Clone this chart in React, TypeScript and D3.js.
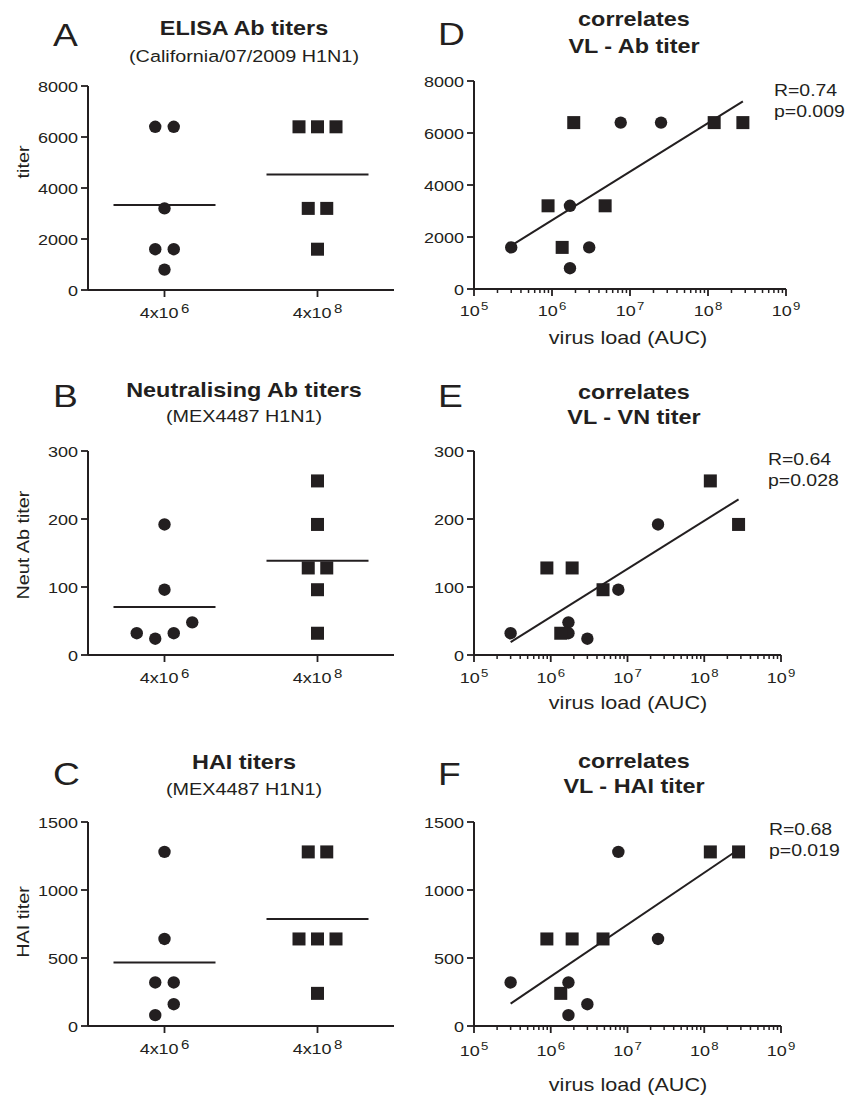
import React from 'react';
import * as d3 from 'd3';

// ---------- data ----------
const groups = ['low', 'high'];
const groupExp = ['6', '8'];

// left panels: titers per dose group (display order)
const elisaLowGroup = [6400, 6400, 3200, 1600, 1600, 800];
const elisaHighGroup = [6400, 6400, 6400, 3200, 3200, 1600];
const vnLowGroup = [192, 96, 32, 24, 32, 48];
const vnHighGroup = [256, 192, 128, 128, 96, 32];
const haiLowGroup = [1280, 640, 320, 320, 80, 160];
const haiHighGroup = [1280, 1280, 640, 640, 640, 240];

// right panels: virus load (AUC) paired with titers, per animal
const vlLow = [3e5, 1.7e6, 3e6, 1.7e6, 7.6e6, 2.5e7];
const elisaLow = [1600, 800, 1600, 3200, 6400, 6400];
const vnLow = [32, 48, 24, 32, 96, 192];
const haiLow = [320, 80, 160, 320, 1280, 640];
const vlHigh = [8.9e5, 1.35e6, 1.9e6, 4.8e6, 1.2e8, 2.8e8];
const elisaHigh = [3200, 1600, 6400, 3200, 6400, 6400];
const vnHigh = [128, 32, 128, 96, 256, 192];
const haiHigh = [640, 240, 640, 640, 1280, 1280];

const elisaTicks = [0, 2000, 4000, 6000, 8000];
const vnTicks = [0, 100, 200, 300];
const haiTicks = [0, 500, 1000, 1500];
const decades = [5, 6, 7, 8, 9];
const stats = [
  ['R=0.74', 'p=0.009'],
  ['R=0.64', 'p=0.028'],
  ['R=0.68', 'p=0.019'],
];

// ---------- style ----------
const INK = '#231f20';
const FONT = '"Liberation Sans", Arial, Helvetica, sans-serif';
const SX = 1.2;

function T({ x, y, size, weight = 'normal', anchor = 'start', rotate = 0, sx = SX, children }: any) {
  return (
    <text
      transform={`translate(${x},${y})${rotate ? ` rotate(${rotate})` : ''} scale(${sx},1)`}
      fontSize={size}
      fontWeight={weight}
      textAnchor={anchor}
      fill={INK}
      fontFamily={FONT}
    >
      {children}
    </text>
  );
}

function Marker({ shape, cx, cy }: any) {
  if (shape === 'circle') return <circle cx={cx} cy={cy} r={6.2} fill={INK} />;
  const s = 13;
  return <rect x={cx - s / 2} y={cy - s / 2} width={s} height={s} fill={INK} />;
}

function jitter(vals: number[], y: (v: number) => number, size = 12.5, step = 18.5) {
  const order = vals.map((_, i) => i).sort((a, b) => y(vals[b]) - y(vals[a]));
  const clusters: number[][] = [];
  order.forEach((i, k) => {
    if (k > 0 && Math.abs(y(vals[i]) - y(vals[order[k - 1]])) < size) clusters[clusters.length - 1].push(i);
    else clusters.push([i]);
  });
  const off = new Array(vals.length).fill(0);
  clusters.forEach((c) => {
    c.sort((a, b) => a - b);
    c.forEach((i, k) => (off[i] = (k - (c.length - 1) / 2) * step));
  });
  return off;
}

function GroupPanel({ p }: any) {
  const left = 88;
  const x = d3.scalePoint<string>().domain(groups).range([left, 394]).padding(0.5);
  const y = d3.scaleLinear().domain([0, p.yMax]).range([p.bottom, p.top]);
  const series = [
    { vals: p.low, shape: 'circle', g: groups[0] },
    { vals: p.high, shape: 'square', g: groups[1] },
  ];
  return (
    <g>
      <T x={53} y={p.letterY} size={31}>{p.letter}</T>
      <T x={244} y={p.titleY} size={19.5} weight="bold" anchor="middle">{p.title}</T>
      <T x={244} y={p.subY} size={16.5} anchor="middle">{p.subtitle}</T>
      <T x={29} y={p.ylabelY} size={16.5} anchor="middle" rotate={-90}>{p.ylabel}</T>
      <line x1={left} x2={left} y1={p.bottom} y2={p.top} stroke={INK} strokeWidth={2} />
      <line x1={left} x2={394} y1={p.bottom} y2={p.bottom} stroke={INK} strokeWidth={2} />
      {p.ticks.map((t: number) => (
        <g key={t}>
          <line x1={left - 7} x2={left} y1={y(t)} y2={y(t)} stroke={INK} strokeWidth={1.8} />
          <T x={left - 10} y={y(t) + 5.5} size={15} anchor="end">{t}</T>
        </g>
      ))}
      {groups.map((g, i) => (
        <g key={g}>
          <line x1={x(g)} x2={x(g)} y1={p.bottom} y2={p.bottom + 7} stroke={INK} strokeWidth={1.8} />
          <T x={(x(g) as number)} y={p.bottom + 28} size={15} anchor="middle">
            <tspan>4x10</tspan>
            <tspan dx={2} dy={-5} fontSize={12.5}>{groupExp[i]}</tspan>
          </T>
        </g>
      ))}
      {series.map((s) => {
        const off = jitter(s.vals, y);
        const cx = x(s.g) as number;
        const m = d3.mean(s.vals) as number;
        return (
          <g key={s.g}>
            {s.vals.map((v: number, i: number) => (
              <Marker key={i} shape={s.shape} cx={cx + off[i]} cy={y(v)} />
            ))}
            <line x1={cx - 51} x2={cx + 51} y1={y(m)} y2={y(m)} stroke={INK} strokeWidth={2} />
          </g>
        );
      })}
    </g>
  );
}

function CorrPanel({ p }: any) {
  const left = 474;
  const x = d3.scaleLog().domain([1e5, 1e9]).range([left, p.right]);
  const y = d3.scaleLinear().domain([0, p.yMax]).range([p.bottom, p.top]);
  const allX = [...p.vlLow, ...p.vlHigh];
  const allY = [...p.low, ...p.high];
  const lx = allX.map((v: number) => Math.log10(v));
  const mx = d3.mean(lx) as number;
  const my = d3.mean(allY) as number;
  let sxy = 0, sxx = 0;
  lx.forEach((v: number, i: number) => {
    sxy += (v - mx) * (allY[i] - my);
    sxx += (v - mx) * (v - mx);
  });
  const slope = sxy / sxx;
  const fit = (v: number) => my + slope * (Math.log10(v) - mx);
  const x0 = d3.min(allX) as number;
  const x1 = d3.max(allX) as number;
  const minor: number[] = [];
  decades.slice(0, -1).forEach((d) => {
    for (let m = 2; m <= 9; m++) minor.push(m * Math.pow(10, d));
  });
  return (
    <g>
      <T x={438} y={p.letterY} size={31}>{p.letter}</T>
      <T x={634} y={p.titleY} size={19.5} weight="bold" anchor="middle">correlates</T>
      <T x={634} y={p.title2Y} size={19.5} weight="bold" anchor="middle">{p.title}</T>
      <T x={p.statX} y={p.statY} size={16.2}>{p.stat[0]}</T>
      <T x={p.statX} y={p.statY + 21} size={16.2}>{p.stat[1]}</T>
      <line x1={left} x2={left} y1={p.bottom} y2={p.top} stroke={INK} strokeWidth={2} />
      <line x1={left} x2={p.right} y1={p.bottom} y2={p.bottom} stroke={INK} strokeWidth={2} />
      {p.ticks.map((t: number) => (
        <g key={t}>
          <line x1={left - 7} x2={left} y1={y(t)} y2={y(t)} stroke={INK} strokeWidth={1.8} />
          <T x={left - 10} y={y(t) + 5.5} size={15} anchor="end">{t}</T>
        </g>
      ))}
      {minor.map((v) => (
        <line key={v} x1={x(v)} x2={x(v)} y1={p.bottom} y2={p.bottom + 4} stroke={INK} strokeWidth={1.5} />
      ))}
      {decades.map((d) => {
        const v = Math.pow(10, d);
        return (
          <g key={d}>
            <line x1={x(v)} x2={x(v)} y1={p.bottom} y2={p.bottom + 7} stroke={INK} strokeWidth={1.8} />
            <T x={x(v)} y={p.bottom + p.tickLabelDy} size={15} anchor="middle">
              <tspan>10</tspan>
              <tspan dx={1} dy={-6} fontSize={11}>{d}</tspan>
            </T>
          </g>
        );
      })}
      <T x={628} y={p.xlabelY} size={18} anchor="middle">virus load (AUC)</T>
      <line x1={x(x0)} x2={x(x1)} y1={y(fit(x0))} y2={y(fit(x1))} stroke={INK} strokeWidth={2} />
      {p.vlLow.map((v: number, i: number) => (
        <Marker key={'c' + i} shape="circle" cx={x(v)} cy={y(p.low[i])} />
      ))}
      {p.vlHigh.map((v: number, i: number) => (
        <Marker key={'s' + i} shape="square" cx={x(v)} cy={y(p.high[i])} />
      ))}
    </g>
  );
}

const leftPanels = [
  { letter: 'A', title: 'ELISA Ab titers', subtitle: '(California/07/2009 H1N1)', ylabel: 'titer',
    low: elisaLowGroup, high: elisaHighGroup, yMax: 8000, ticks: elisaTicks,
    top: 86, bottom: 290, letterY: 46, titleY: 35, subY: 62, ylabelY: 162 },
  { letter: 'B', title: 'Neutralising Ab titers', subtitle: '(MEX4487 H1N1)', ylabel: 'Neut Ab titer',
    low: vnLowGroup, high: vnHighGroup, yMax: 300, ticks: vnTicks,
    top: 451, bottom: 655, letterY: 407, titleY: 397, subY: 422, ylabelY: 545 },
  { letter: 'C', title: 'HAI titers', subtitle: '(MEX4487 H1N1)', ylabel: 'HAI titer',
    low: haiLowGroup, high: haiHighGroup, yMax: 1500, ticks: haiTicks,
    top: 822, bottom: 1026, letterY: 785, titleY: 769, subY: 795, ylabelY: 922 },
];

const rightPanels = [
  { letter: 'D', title: 'VL - Ab titer', vlLow, vlHigh, low: elisaLow, high: elisaHigh, yMax: 8000,
    ticks: elisaTicks, top: 81, bottom: 289, right: 786, letterY: 45, titleY: 26, title2Y: 53,
    stat: stats[0], statX: 774, statY: 96, xlabelY: 344, tickLabelDy: 27 },
  { letter: 'E', title: 'VL - VN titer', vlLow, vlHigh, low: vnLow, high: vnHigh, yMax: 300,
    ticks: vnTicks, top: 451, bottom: 655, right: 781, letterY: 407, titleY: 399, title2Y: 424,
    stat: stats[1], statX: 768, statY: 465, xlabelY: 709, tickLabelDy: 28 },
  { letter: 'F', title: 'VL - HAI titer', vlLow, vlHigh, low: haiLow, high: haiHigh, yMax: 1500,
    ticks: haiTicks, top: 822, bottom: 1026, right: 781, letterY: 785, titleY: 768, title2Y: 793,
    stat: stats[2], statX: 769, statY: 835, xlabelY: 1091, tickLabelDy: 30 },
];

export default function App() {
  return (
    <svg
      width={846}
      height={1096}
      viewBox="0 0 846 1096"
      style={{ position: 'absolute', left: 0, top: 0, background: '#fff' }}
    >
      <rect width={846} height={1096} fill="#fff" />
      {leftPanels.map((p) => <GroupPanel key={p.letter} p={p} />)}
      {rightPanels.map((p) => <CorrPanel key={p.letter} p={p} />)}
    </svg>
  );
}
